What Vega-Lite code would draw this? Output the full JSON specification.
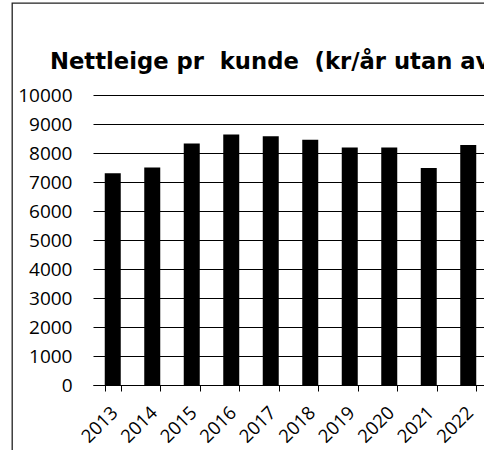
{
  "$schema": "https://vega.github.io/schema/vega-lite/v6.json",
  "autosize": {"type": "none"},
  "width": 472,
  "height": 447,
  "padding": {"left": 12, "top": 3, "right": 0, "bottom": 0},
  "background": "white",
  "title": {
    "text": "Nettleige pr\u00a0 kunde\u00a0 (kr/år utan avgifter)",
    "anchor": "start",
    "frame": "group",
    "orient": "top",
    "baseline": "alphabetic",
    "offset": -89,
    "dx": 38,
    "font": "DejaVu Sans",
    "fontSize": 22.7,
    "fontWeight": "bold",
    "color": "black"
  },
  "data": {
    "values": [
      {"year": "2013", "value": 7300},
      {"year": "2014", "value": 7500},
      {"year": "2015", "value": 8330},
      {"year": "2016", "value": 8640},
      {"year": "2017", "value": 8580},
      {"year": "2018", "value": 8460},
      {"year": "2019", "value": 8190},
      {"year": "2020", "value": 8190},
      {"year": "2021", "value": 7480},
      {"year": "2022", "value": 8280}
    ]
  },
  "mark": {"type": "bar", "color": "black"},
  "encoding": {
    "x": {
      "field": "year",
      "type": "ordinal",
      "scale": {"range": [81, 476], "paddingInner": 0.595, "paddingOuter": 0.2975},
      "axis": {
        "title": null,
        "offset": -65,
        "labelAngle": -45,
        "labelFont": "Open Sans",
        "labelFontSize": 18.5,
        "labelColor": "black",
        "labelPadding": 12,
        "labelOffset": -5,
        "domainColor": "black",
        "domainWidth": 1,
        "tickColor": "black",
        "tickSize": 6,
        "tickBand": "extent",
        "grid": false
      }
    },
    "y": {
      "field": "value",
      "type": "quantitative",
      "scale": {"domain": [0, 10000], "range": [382, 92], "nice": false},
      "axis": {
        "title": null,
        "offset": -81,
        "format": "d",
        "values": [0, 1000, 2000, 3000, 4000, 5000, 6000, 7000, 8000, 9000, 10000],
        "labelFont": "Open Sans",
        "labelFontSize": 19,
        "labelColor": "black",
        "labelPadding": 21,
        "ticks": false,
        "tickSize": 0,
        "domain": false,
        "grid": true,
        "gridColor": "black",
        "gridWidth": 1,
        "gridOpacity": 1
      }
    }
  },
  "config": {
    "view": {"stroke": "#222222", "strokeWidth": 1.3, "strokeDash": [472, 919, 447]}
  }
}
